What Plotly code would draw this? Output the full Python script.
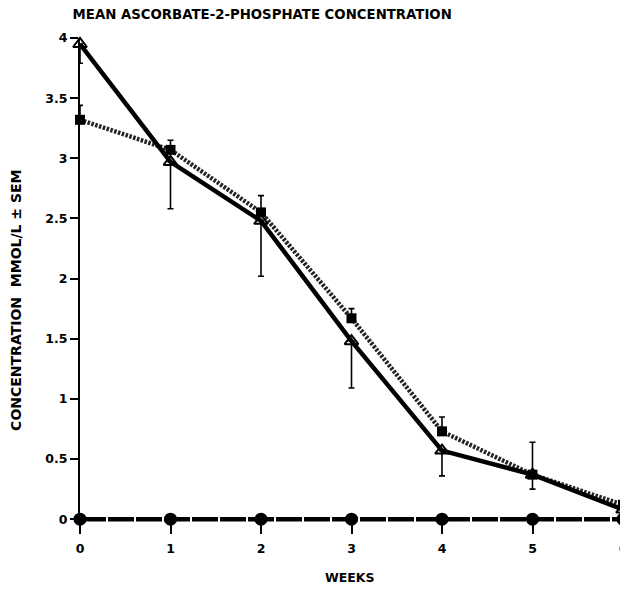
import plotly.graph_objects as go

weeks = [0, 1, 2, 3, 4, 5, 6]
triangle_mean = [3.95, 2.97, 2.48, 1.48, 0.57, 0.37, 0.08]
triangle_sem_low = [3.79, 2.58, 2.02, 1.09, 0.36, 0.25, 0.0]
square_mean = [3.32, 3.07, 2.55, 1.67, 0.73, 0.37, 0.12]
square_sem_high = [3.44, 3.15, 2.69, 1.75, 0.85, 0.64, 0.27]
circle_mean = [0, 0, 0, 0, 0, 0, 0]

y_tickvals = [0, 0.5, 1, 1.5, 2, 2.5, 3, 3.5, 4]
y_ticktext = ["0", "0.5", "1", "1.5", "2", "2.5", "3", "3.5", "4"]
x_ticktext = ["0", "1", "2", "3", "4", "5", "6"]

FONT = "DejaVu Sans"

fig = go.Figure()

# zero-line series (filled circles)
fig.add_trace(go.Scatter(
    x=weeks, y=circle_mean, mode="lines+markers",
    line=dict(color="black", width=4.5, dash="26px,2px"),
    marker=dict(symbol="circle", size=13, color="black"),
    cliponaxis=False, showlegend=False))

# dotted series (filled squares)
fig.add_trace(go.Scatter(
    x=weeks, y=square_mean, mode="lines+markers",
    line=dict(color="#222222", width=4.5, dash="2.5px,1.5px"),
    marker=dict(symbol="square", size=10, color="black"),
    error_y=dict(type="data", symmetric=False,
                 array=[h - m for h, m in zip(square_sem_high, square_mean)],
                 arrayminus=[0] * len(weeks),
                 color="black", thickness=1.6, width=3),
    cliponaxis=False, showlegend=False))

# solid series (open triangles)
fig.add_trace(go.Scatter(
    x=weeks, y=triangle_mean, mode="lines+markers",
    line=dict(color="black", width=4.5),
    marker=dict(symbol="triangle-up-open", size=12, color="black",
                line=dict(width=2, color="black")),
    error_y=dict(type="data", symmetric=False,
                 array=[0] * len(weeks),
                 arrayminus=[m - l for m, l in zip(triangle_mean, triangle_sem_low)],
                 color="black", thickness=1.6, width=3),
    cliponaxis=False, showlegend=False))

fig.update_layout(
    width=620, height=585,
    margin=dict(l=72, r=5, t=30, b=69),
    paper_bgcolor="white", plot_bgcolor="white",
    font=dict(family=FONT, color="black", size=12),
    title=dict(text="<b>MEAN ASCORBATE-2-PHOSPHATE CONCENTRATION</b>",
               x=0.41, xanchor="center", xref="container",
               y=0.99, yanchor="middle", yref="container",
               font=dict(family=FONT, size=13.3, color="black")),
    xaxis=dict(range=[0, 6], tickvals=weeks, ticktext=["<b>%s</b>" % t for t in x_ticktext],
               showgrid=False, zeroline=False, showline=False, automargin=False,
               ticks="outside", ticklen=9, tickwidth=2, tickcolor="black",
               ticklabelstandoff=4,
               tickfont=dict(family=FONT, size=12.5)),
    yaxis=dict(range=[-0.04, 4], tickvals=y_tickvals, automargin=False,
               ticktext=["<b>%s</b>" % t for t in y_ticktext],
               showgrid=False, zeroline=False, showline=True, linecolor="black", linewidth=2,
               ticks="outside", ticklen=8, tickwidth=1.6, tickcolor="black",
               tickfont=dict(family=FONT, size=12.5)),
    annotations=[
        dict(text="<b>CONCENTRATION  MMOL/L ± SEM</b>", textangle=-90,
             xref="paper", yref="paper", x=-0.118, y=0.461, xanchor="center", yanchor="middle",
             showarrow=False, font=dict(family=FONT, size=14, color="black")),
        dict(text="<b>WEEKS</b>", xref="paper", yref="paper", x=0.497, y=-0.111,
             xanchor="center", yanchor="middle", showarrow=False,
             font=dict(family=FONT, size=12.5, color="black")),
    ],
)

fig.write_html("out.html")
